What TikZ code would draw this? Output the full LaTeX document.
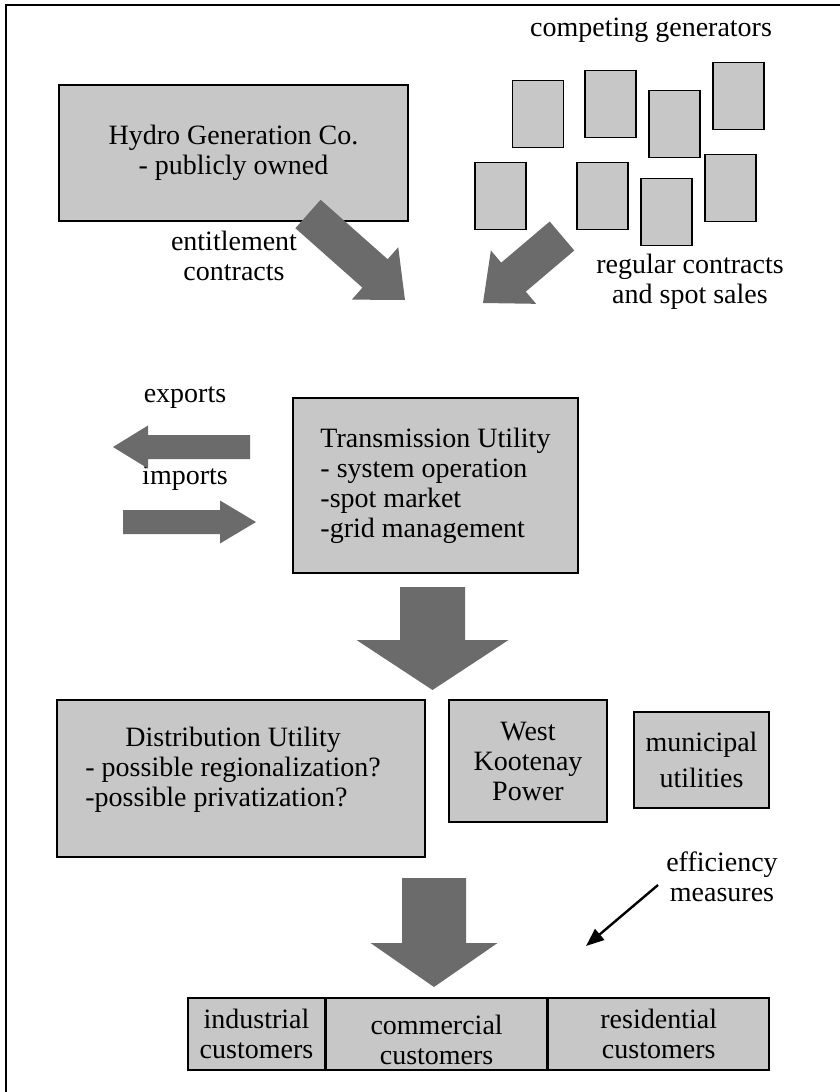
\documentclass[tikz,border=0pt]{standalone}
\usepackage{fontspec}
\setmainfont{Liberation Serif}
\usetikzlibrary{positioning, arrows.meta}

\definecolor{boxgray}{gray}{0.78}
\definecolor{arrowgray}{gray}{0.42}

% block arrow: start, angle, length, shaft half, head half, head length
\newcommand{\fatarrow}[6]{%
  \fill[arrowgray, shift={(#1)}, rotate=#2]
    (0pt,-#4) -- ({#3-#6},-#4) -- ({#3-#6},-#5) -- (#3,0pt) -- ({#3-#6},#5) -- ({#3-#6},#4) -- (0pt,#4) -- cycle;}

\tikzset{
  box/.style={draw, line width=0.8pt, fill=boxgray, inner sep=0pt, align=center},
  gen/.style={box, minimum width=25.5pt, minimum height=33.5pt},
  lbl/.style={align=center, inner sep=0pt},
}

\begin{document}
\begin{tikzpicture}[x=0.5pt, y=-0.5pt, >=stealth, font=\fontsize{14}{15}\selectfont]

\useasboundingbox (0,0) rectangle (840,1092);
\draw[line width=1pt] (840,5) -- (6,5) -- (6,1092);

% generation
\node[box, minimum width=174.5pt, minimum height=68pt] (hydro) at (233.5,153) {Hydro Generation Co.\\- publicly owned};
\node[lbl] (comp) at (651,30) {competing generators};
\foreach \n/\gx/\gy in {1/538/114, 2/610.5/104, 3/674.5/124, 4/738.5/96, 5/500.5/196, 6/602.5/196, 7/666.5/212, 8/730.5/188}
  \node[gen] (gen\n) at (\gx,\gy) {};

\node[lbl] (ent) at (234,256) {entitlement\\contracts};
\node[lbl] (reg) at (690,282) {regular contracts\\and spot sales};

\coordinate (ent-from) at (308,214);
\coordinate (gen-from) at (562,236);
\fatarrow{ent-from}{-41.56}{64.8pt}{9.5pt}{17.5pt}{20pt}
\fatarrow{gen-from}{220.3}{51.8pt}{9.5pt}{17.5pt}{20pt}

% transmission
\node[box, minimum width=142.5pt, minimum height=87.5pt, align=left] (trans) at (435.5,485.5) {Transmission Utility\\- system operation\\-spot market\\-grid management};

\node[lbl] (exp) at (185,398) {exports};
\node[lbl] (imp) at (185,478) {imports};
\coordinate (exp-from) at (250,447);
\coordinate (imp-from) at (123,522);
\fatarrow{exp-from}{180}{68.5pt}{6pt}{10.75pt}{17.5pt}
\fatarrow{imp-from}{0}{66.5pt}{6pt}{10.75pt}{18pt}

\coordinate (trans-from) at (432.5,587);
\fatarrow{trans-from}{-90}{51.5pt}{16.25pt}{38pt}{25pt}

% distribution
\node[box, minimum width=184pt, minimum height=78.5pt] (dist) at (241,778.5) {};
\node[lbl, anchor=west] (dist-txt) at (85,770) {\begin{tabular}{@{}l@{}}\multicolumn{1}{@{}c@{}}{Distribution Utility}\\- possible regionalization?\\-possible privatization?\end{tabular}};
\node[box, minimum width=79pt, minimum height=61pt] (wkp) at (528,761) {West\\Kootenay\\Power};
\node[box, minimum width=67.5pt, minimum height=48pt] (muni) at (701.5,760) {municipal\\[3pt]utilities};

\node[lbl] (eff) at (722,877) {efficiency\\measures};
\coordinate (eff-from) at (658,885);
\coordinate (eff-to) at (586,946);
\draw[line width=1.2pt, -{Triangle[length=9pt, width=7pt]}] (eff-from) -- (eff-to);

\coordinate (dist-from) at (434,878);
\fatarrow{dist-from}{-90}{54.5pt}{16pt}{31.75pt}{22pt}

% customers
\node[box, minimum width=68.5pt, minimum height=36pt] (ind) at (256.5,1034) {industrial\\customers};
\node[box, minimum width=110pt, minimum height=36pt, right=0pt of ind] (com) {};
\node[box, minimum width=110.5pt, minimum height=36pt, right=0pt of com] (res) {residential\\customers};
\node[lbl] (com-txt) at ([yshift=-3pt]com.center) {commercial\\customers};

\end{tikzpicture}
\end{document}
